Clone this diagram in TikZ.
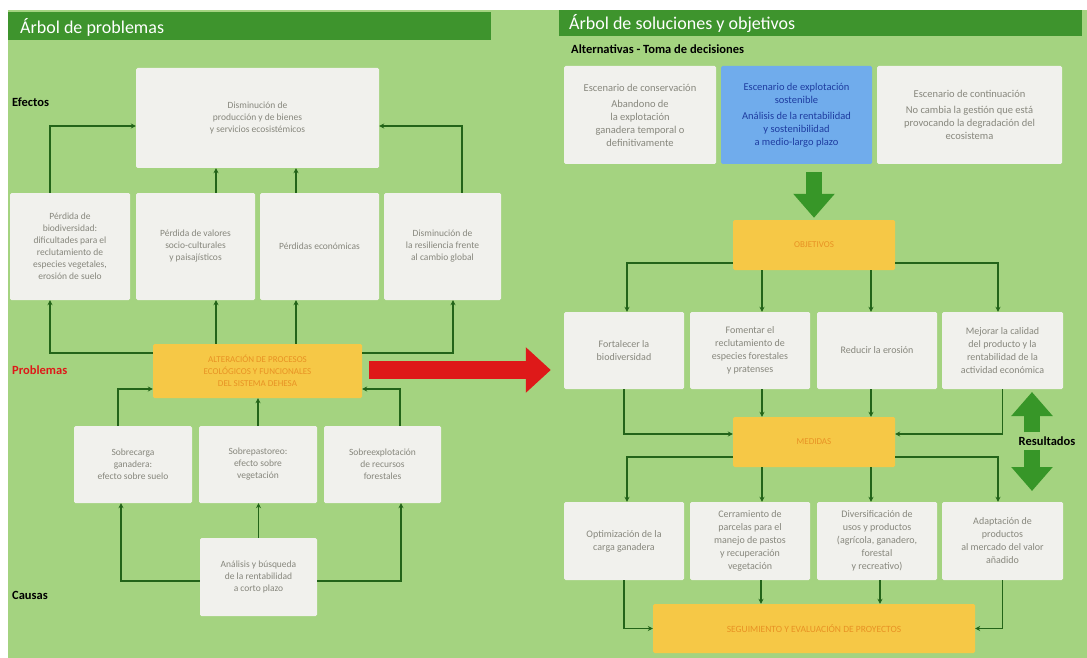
\documentclass[tikz,border=0pt]{standalone}
\usepackage{fontspec}
\setmainfont{Carlito}
\usetikzlibrary{arrows.meta,calc}
\definecolor{bggreen}{RGB}{164,211,128}
\definecolor{hdrgreen}{RGB}{62,148,45}
\definecolor{boxfill}{RGB}{241,241,237}
\definecolor{boxtext}{RGB}{135,135,125}
\definecolor{orangebox}{RGB}{246,200,70}
\definecolor{orangetext}{RGB}{232,146,36}
\definecolor{bluebox}{RGB}{112,172,236}
\definecolor{bluetext}{RGB}{30,60,160}
\definecolor{lineg}{RGB}{35,100,25}
\definecolor{bigg}{RGB}{55,150,40}
\definecolor{redarr}{RGB}{222,25,25}
\tikzset{
  box/.style={fill=boxfill, rounded corners=1.5pt, align=center, text=boxtext,
    font=\fontsize{9.5}{12}\selectfont, inner sep=2pt},
  rbox/.style={box, font=\fontsize{10}{13}\selectfont},
  abox/.style={box, font=\fontsize{10.5}{13}\selectfont},
  obox/.style={fill=orangebox, rounded corners=1.5pt, align=center, text=orangetext,
    font=\fontsize{9}{12}\selectfont, inner sep=2pt},
  conn/.style={draw=lineg, line width=1.6pt, -{Stealth[length=5pt,width=5pt]}},
  bigarrow/.style={draw=bigg, line width=16pt, -{Triangle[length=24pt,width=40pt]}},
  redarrow/.style={draw=redarr, line width=18pt, -{Triangle[length=25pt,width=44pt]}},
  lbl/.style={anchor=west, font=\bfseries\fontsize{12.5}{14}\selectfont, inner sep=0pt},
  hdr/.style={anchor=west, text=white, font=\fontsize{18}{20}\selectfont, inner sep=0pt}
}
\begin{document}
\begin{tikzpicture}[x=1pt,y=-1pt]
\useasboundingbox (0,0) rectangle (1087,658);
\fill[white] (0,0) rectangle (1087,658);
\fill[bggreen] (8,10) rectangle (1087,658);
% headers
\fill[hdrgreen] (8,12) rectangle (491,40);
\node[hdr] (hdrL) at (20,27) {Árbol de problemas};
\fill[hdrgreen] (559,10) rectangle (1082,36);
\node[hdr] (hdrR) at (569,24) {Árbol de soluciones y objetivos};
% side labels
\node[lbl] (efectos) at (12,102) {Efectos};
\node[lbl, text=redarr] (problemas) at (12,370) {Problemas};
\node[lbl] (causas) at (12,595) {Causas};
\node[lbl] (alt) at (571,49) {Alternativas - Toma de decisiones};
% ---------------- left tree ----------------
\node[box, minimum width=243pt, minimum height=100pt] (top) at (257.5,118)
  {Disminución de\\producción y de bienes\\y servicios ecosistémicos};
\node[box, minimum width=120pt, minimum height=107pt] (e1) at (70,246.5)
  {Pérdida de\\biodiversidad:\\dificultades para el\\reclutamiento de\\especies vegetales,\\erosión de suelo};
\node[box, minimum width=119pt, minimum height=107pt] (e2) at (195.5,246.5)
  {Pérdida de valores\\socio-culturales\\y paisajísticos};
\node[box, minimum width=119pt, minimum height=107pt] (e3) at (319.5,246.5)
  {Pérdidas económicas};
\node[box, minimum width=117pt, minimum height=107pt] (e4) at (442.5,246.5)
  {Disminución de\\la resiliencia frente\\al cambio global};
\node[obox, minimum width=209pt, minimum height=54pt] (prob) at (257.5,371)
  {ALTERACIÓN DE PROCESOS\\ECOLÓGICOS Y FUNCIONALES\\DEL SISTEMA DEHESA};
\node[box, minimum width=118pt, minimum height=77pt] (c1) at (133,464.5)
  {Sobrecarga\\ganadera:\\efecto sobre suelo};
\node[box, minimum width=118pt, minimum height=77pt] (c2) at (258,464.5)
  {Sobrepastoreo:\\efecto sobre\\vegetación};
\node[box, minimum width=117pt, minimum height=77pt] (c3) at (382.5,464.5)
  {Sobreexplotación\\de recursos\\forestales};
\node[box, minimum width=117pt, minimum height=78pt] (bot) at (258.5,577)
  {Análisis y búsqueda\\de la rentabilidad\\a corto plazo};
% left connectors
\draw[conn] ([xshift=-20pt]e1.north) |- ([yshift=-8pt]top.west);
\draw[conn] ([xshift=19.5pt]e4.north) |- ([yshift=-8pt]top.east);
\draw[conn] ([xshift=20.5pt]e2.north) -- ([xshift=20.5pt]e2.north |- top.south);
\draw[conn] ([xshift=-23.5pt]e3.north) -- ([xshift=-23.5pt]e3.north |- top.south);
\draw[conn] ([yshift=18pt]prob.west) -| ([xshift=-20pt]e1.south);
\draw[conn] ([yshift=18pt]prob.east) -| ([xshift=10.5pt]e4.south);
\draw[conn] ([xshift=20.5pt]e2.south |- prob.north) -- ([xshift=20.5pt]e2.south);
\draw[conn] ([xshift=-23.5pt]e3.south |- prob.north) -- ([xshift=-23.5pt]e3.south);
\draw[conn] ([xshift=-15pt]c1.north) |- ([yshift=-18pt]prob.west);
\draw[conn] ([xshift=17.5pt]c3.north) |- ([yshift=-18pt]prob.east);
\draw[conn] (c2.north) -- (c2.north |- prob.south);
\draw[conn] ([yshift=-4pt]bot.west) -| ([xshift=-12pt]c1.south);
\draw[conn] ([yshift=-4pt]bot.east) -| ([xshift=18.5pt]c3.south);
\draw[conn] (bot.north) -- (bot.north |- c2.south);
% ---------------- right tree ----------------
\node[abox, minimum width=152pt, minimum height=98pt] (a1) at (640,115)
  {Escenario de conservación\\[3pt]Abandono de\\la explotación\\ganadera temporal o\\definitivamente};
\node[abox, fill=bluebox, text=bluetext, minimum width=151pt, minimum height=98pt] (a2) at (796.5,115)
  {Escenario de explotación\\sostenible\\[3pt]Análisis de la rentabilidad\\y sostenibilidad\\a medio-largo plazo};
\node[abox, minimum width=185pt, minimum height=98pt] (a3) at (969.5,115)
  {Escenario de continuación\\[3pt]No cambia la gestión que está\\provocando la degradación del\\ecosistema};
\node[obox, minimum width=162pt, minimum height=50pt] (obj) at (814,245) {OBJETIVOS};
\node[rbox, minimum width=120pt, minimum height=77pt] (r1) at (624,350.5)
  {Fortalecer la\\biodiversidad};
\node[rbox, minimum width=120pt, minimum height=77pt] (r2) at (750,350.5)
  {Fomentar el\\reclutamiento de\\especies forestales\\y pratenses};
\node[rbox, minimum width=120pt, minimum height=77pt] (r3) at (877,350.5)
  {Reducir la erosión};
\node[rbox, minimum width=121pt, minimum height=77pt] (r4) at (1002.5,350.5)
  {Mejorar la calidad\\del producto y la\\rentabilidad de la\\actividad económica};
\node[obox, minimum width=162pt, minimum height=50pt] (med) at (814,442) {MEDIDAS};
\node[rbox, minimum width=120pt, minimum height=78pt] (m1) at (624,541)
  {Optimización de la\\carga ganadera};
\node[rbox, minimum width=120pt, minimum height=78pt] (m2) at (750,541)
  {Cerramiento de\\parcelas para el\\manejo de pastos\\y recuperación\\vegetación};
\node[rbox, minimum width=120pt, minimum height=78pt] (m3) at (877,541)
  {Diversificación de\\usos y productos\\(agrícola, ganadero,\\forestal\\y recreativo)};
\node[rbox, minimum width=121pt, minimum height=78pt] (m4) at (1002.5,541)
  {Adaptación de\\productos\\al mercado del valor\\añadido};
\node[obox, font=\fontsize{9.5}{12}\selectfont, minimum width=322pt, minimum height=49pt] (fin) at (814,628.5)
  {SEGUIMIENTO Y EVALUACIÓN DE PROYECTOS};
% big arrows
\draw[redarrow] ([xshift=7pt,yshift=1pt]prob.east) -- ([xshift=-13pt,yshift=1pt]prob.east -| a1.west);
\draw[bigarrow] ([yshift=-8pt]a2.south -| obj.north) -- ([yshift=2pt]obj.north);
\node[lbl, anchor=center] (res) at (1047,441) {Resultados};
\coordinate (uptip) at (1032,392);
\coordinate (dntip) at (1032,491);
\draw[bigarrow] ([yshift=4pt]uptip |- res.north) -- (uptip);
\draw[bigarrow] ([yshift=-4pt]dntip |- res.south) -- (dntip);
% right connectors
\draw[conn] ([yshift=-18pt]obj.west) -| ([xshift=3pt]r1.north);
\draw[conn] ([yshift=-18pt]obj.east) -| ([xshift=-4.5pt]r4.north);
\draw[conn] ([xshift=12pt]r2.north |- obj.south) -- ([xshift=12pt]r2.north);
\draw[conn] ([xshift=-6pt]r3.north |- obj.south) -- ([xshift=-6pt]r3.north);
\draw[conn] (r1.south) |- ([yshift=8pt]med.west);
\draw[conn] (r4.south) |- ([yshift=8pt]med.east);
\draw[conn] ([xshift=12pt]r2.south) -- ([xshift=12pt]r2.south |- med.north);
\draw[conn] ([xshift=-6pt]r3.south) -- ([xshift=-6pt]r3.south |- med.north);
\draw[conn] ([yshift=-15pt]med.west) -| ([xshift=3pt]m1.north);
\draw[conn] ([yshift=-15pt]med.east) -| ([xshift=-4.5pt]m4.north);
\draw[conn] ([xshift=12pt]m2.north |- med.south) -- ([xshift=12pt]m2.north);
\draw[conn] ([xshift=-6pt]m3.north |- med.south) -- ([xshift=-6pt]m3.north);
\draw[conn] (m1.south) |- (fin.west);
\draw[conn] (m4.south) |- (fin.east);
\draw[conn] ([xshift=11pt]m2.south) -- ([xshift=11pt]m2.south |- fin.north);
\draw[conn] ([xshift=3pt]m3.south) -- ([xshift=3pt]m3.south |- fin.north);
\end{tikzpicture}
\end{document}
